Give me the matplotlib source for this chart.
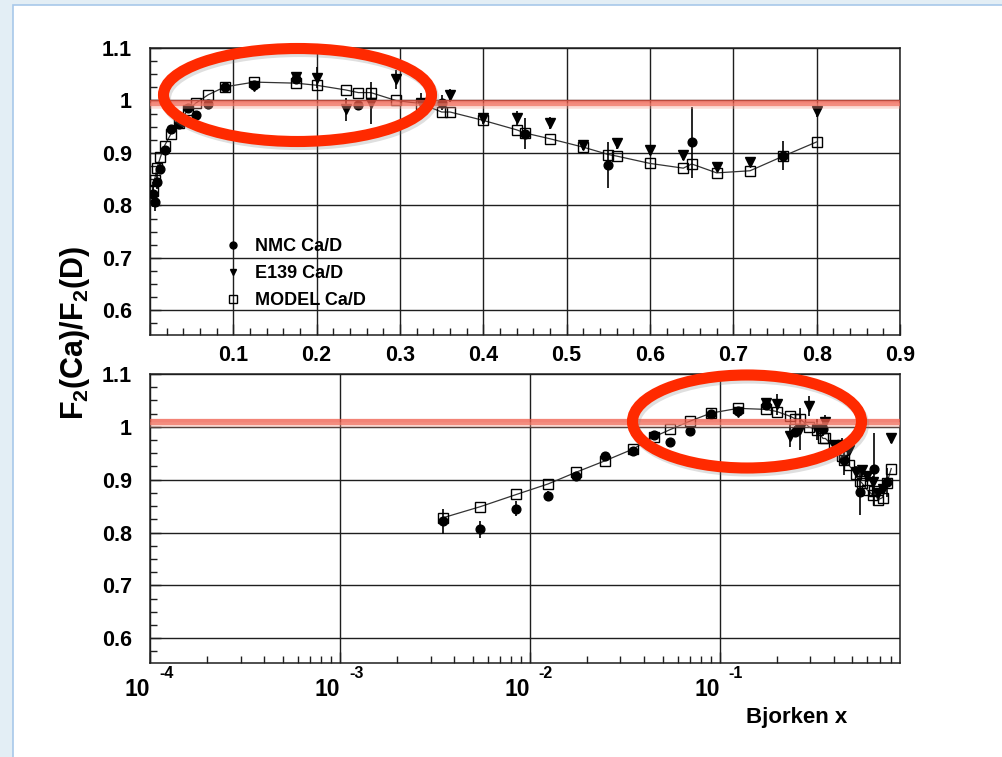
import matplotlib
matplotlib.use('Agg')
import matplotlib.pyplot as plt
from matplotlib.patches import Ellipse, Rectangle
from matplotlib.lines import Line2D
from matplotlib.ticker import MultipleLocator, LogLocator, NullFormatter, FuncFormatter

# NMC Ca/D
x_nmc = [0.0035, 0.0055, 0.0085, 0.0125, 0.0175, 0.025, 0.035, 0.045, 0.055, 0.07,
         0.09, 0.125, 0.175, 0.25, 0.35, 0.45, 0.55, 0.65, 0.76]
y_nmc = [0.821, 0.806, 0.845, 0.869, 0.906, 0.945, 0.955, 0.985, 0.972, 0.993,
         1.025, 1.030, 1.041, 0.991, 0.996, 0.937, 0.877, 0.920, 0.895]
e_nmc = [0.024, 0.016, 0.014, 0.010, 0.008, 0.007, 0.006, 0.006, 0.006, 0.006,
         0.006, 0.006, 0.008, 0.010, 0.014, 0.029, 0.043, 0.068, 0.027]

# E139 Ca/D
x_e139 = [0.125, 0.175, 0.2, 0.235, 0.265, 0.295, 0.325, 0.36, 0.40, 0.44,
          0.48, 0.52, 0.56, 0.60, 0.64, 0.68, 0.72, 0.80]
y_e139 = [1.028, 1.045, 1.043, 0.983, 0.996, 1.040, 0.995, 1.010, 0.966, 0.966,
          0.957, 0.915, 0.918, 0.906, 0.896, 0.874, 0.883, 0.979]
e_e139 = [0.006, 0.008, 0.020, 0.022, 0.040, 0.019, 0.020, 0.012, 0.010, 0.013,
          0.012, 0.010, 0.010, 0.010, 0.010, 0.008, 0.010, 0.010]

# MODEL Ca/D
x_model = [0.0035, 0.0055, 0.0085, 0.0125, 0.0175, 0.025, 0.035, 0.045, 0.055, 0.07,
           0.09, 0.125, 0.175, 0.2, 0.235, 0.25, 0.265, 0.295, 0.325, 0.35,
           0.36, 0.40, 0.44, 0.45, 0.48, 0.52, 0.55, 0.56, 0.60, 0.64,
           0.65, 0.68, 0.72, 0.76, 0.80]
y_model = [0.828, 0.849, 0.872, 0.892, 0.914, 0.936, 0.958, 0.981, 0.995, 1.011,
           1.026, 1.035, 1.033, 1.029, 1.020, 1.015, 1.015, 1.000, 0.994, 0.978,
           0.978, 0.962, 0.944, 0.938, 0.927, 0.911, 0.897, 0.894, 0.880, 0.871,
           0.879, 0.862, 0.866, 0.894, 0.921]

series_labels = ['NMC Ca/D', 'E139 Ca/D', 'MODEL Ca/D']
ref_top = 0.996
ref_bottom = 1.0095

FONT = 'Liberation Sans'
plt.rcParams['font.family'] = [FONT, 'DejaVu Sans']
plt.rcParams['font.weight'] = 'bold'
plt.rcParams['mathtext.fontset'] = 'custom'
plt.rcParams['mathtext.rm'] = FONT + ':bold'
plt.rcParams['mathtext.it'] = FONT + ':bold'
plt.rcParams['mathtext.bf'] = FONT + ':bold'

W, H = 1003, 757
GRID = '#1e1e1e'
RED = '#ff2a00'


def draw_data(ax):
    ax.plot(x_model, y_model, '-', color='#333333', lw=0.9, zorder=3)
    ax.errorbar(x_nmc, y_nmc, yerr=e_nmc, fmt='o', color='black', ms=6.3,
                elinewidth=1.2, capsize=0, zorder=4)
    ax.errorbar(x_e139, y_e139, yerr=e_e139, fmt='v', color='black', ms=6.8,
                elinewidth=1.2, capsize=0, zorder=4)
    ax.plot(x_model, y_model, 's', mfc='none', mec='black', ms=7, mew=1.0, zorder=5)


def style_axis(ax):
    ax.set_facecolor('white')
    for s in ax.spines.values():
        s.set_linewidth(1.1)
        s.set_color(GRID)
    ax.grid(True, which='major', color=GRID, lw=1.0)
    ax.set_axisbelow(True)
    ax.tick_params(which='both', direction='in', top=False, right=False,
                   color=GRID, width=1.0)
    ax.tick_params(which='major', length=8)
    ax.tick_params(which='minor', length=5)
    ax.tick_params(axis='y', which='major', pad=13, labelsize=15.5)
    ax.set_ylim(0.553, 1.1)
    ax.yaxis.set_major_locator(MultipleLocator(0.1))
    ax.yaxis.set_minor_locator(MultipleLocator(0.025))
    ax.yaxis.set_major_formatter(FuncFormatter(lambda v, p: f'{round(v, 2):g}'))


fig = plt.figure(figsize=(W / 100, H / 100), dpi=100)
fig.patch.set_facecolor('#e3eef5')
fig.patches.append(Rectangle((13 / W, -0.1), 1.2, 1 - 5 / H + 0.1, transform=fig.transFigure,
                             facecolor='white', edgecolor='#a8c8ea', lw=1.2, zorder=-5))

ax1 = fig.add_axes([150 / W, 1 - 335 / H, 750 / W, 287 / H])
ax2 = fig.add_axes([150 / W, 1 - 663 / H, 750 / W, 289 / H])

# top: linear x
draw_data(ax1)
style_axis(ax1)
ax1.set_xlim(0, 0.9)
ax1.xaxis.set_major_locator(MultipleLocator(0.1))
ax1.xaxis.set_minor_locator(MultipleLocator(0.02))
ax1.xaxis.set_major_formatter(FuncFormatter(lambda v, p: '' if abs(v) < 1e-9 else f'{v:.1f}'))
ax1.tick_params(axis='x', which='major', pad=7, labelsize=15.5)
ax1.axhline(ref_top, color='#f05a48', lw=4.5, alpha=0.75, zorder=6)
ax1.axhline(ref_top - 0.006, color='#f5a090', lw=4, alpha=0.35, zorder=6)

handles = [Line2D([], [], marker='o', ls='none', color='black', ms=5),
           Line2D([], [], marker='v', ls='none', color='black', ms=5),
           Line2D([], [], marker='s', ls='none', mfc='none', mec='black', ms=6, mew=1.0)]
ax1.legend(handles, series_labels, loc='upper left', bbox_to_anchor=(0.1, 0.338),
           frameon=False, fontsize=13, handlelength=0.9, handletextpad=0.75,
           labelspacing=0.55, borderpad=0, borderaxespad=0)

# bottom: log x
draw_data(ax2)
style_axis(ax2)
ax2.set_xscale('log')
ax2.set_xlim(1e-4, 0.89)
ax2.xaxis.set_major_locator(LogLocator(base=10, numticks=10))
ax2.xaxis.set_minor_locator(LogLocator(base=10, subs=range(2, 10), numticks=20))
ax2.xaxis.set_major_formatter(NullFormatter())
ax2.xaxis.set_minor_formatter(NullFormatter())
ax2.axhline(ref_bottom, color='#f05a48', lw=4.5, alpha=0.75, zorder=6)
ax2.axhline(ref_bottom - 0.006, color='#f5a090', lw=4, alpha=0.35, zorder=6)
for d in [-4, -3, -2, -1]:
    ax2.annotate('10', xy=(10.0 ** d, 0), xycoords=('data', 'axes fraction'),
                 xytext=(0, -15), textcoords='offset pixels', ha='right', va='top',
                 fontsize=16.5, fontweight='bold')
    ax2.annotate(str(d), xy=(10.0 ** d, 0), xycoords=('data', 'axes fraction'),
                 xytext=(9, -3), textcoords='offset pixels', ha='left', va='top',
                 fontsize=11.5, fontweight='bold')

fig.text(75 / W, 1 - 333 / H, r'F$_2$(Ca)/F$_2$(D)', rotation=90, ha='center', va='center',
         fontsize=22, fontweight='bold')
fig.text(847 / W, 1 - 717 / H, 'Bjorken x', ha='right', va='center', fontsize=16,
         fontweight='bold')

# red highlight ellipses
for cx, cy, w, h in [(297.5, 95, 268, 93), (747, 421.5, 229, 93)]:
    fig.patches.append(Ellipse(((cx + 2) / W, 1 - (cy + 3) / H), w / W, h / H,
                               transform=fig.transFigure, fill=False, ec='#808080',
                               lw=8, alpha=0.25, zorder=20))
    fig.patches.append(Ellipse((cx / W, 1 - cy / H), w / W, h / H, transform=fig.transFigure,
                               fill=False, ec=RED, lw=8, zorder=21))

fig.savefig('out.png', dpi=100, facecolor=fig.get_facecolor())
